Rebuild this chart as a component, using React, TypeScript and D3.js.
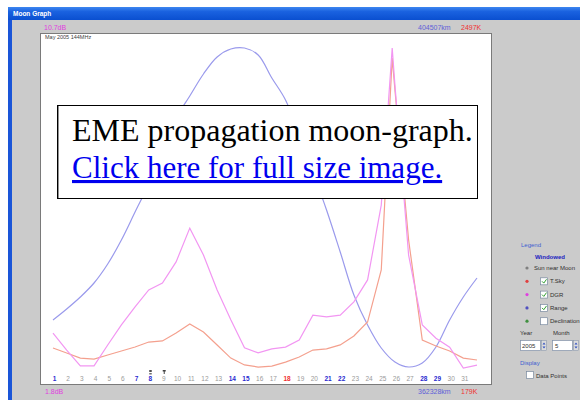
import React from "react";
import * as d3 from "d3";

// ---- data ----
const monthLabel = "May 2005 144MHz";
const dayLabels = d3.range(1, 32); // 1..31
const weekendDays = [1, 7, 8, 14, 15, 21, 22, 28, 29];
const specialDays = [18];

// Range (moon distance, km) sampled at day starts 1..32
const rangeDays = d3.range(1, 33);
const rangeKm = [
  368655, 370105, 371687, 373532, 376036, 379200, 382890, 386581, 391063, 395281,
  398180, 401080, 403321, 404375, 404507, 403585, 400553, 397653, 393040, 388163,
  383154, 377618, 371950, 367996, 364964, 363119, 362460, 362987, 365096, 368655,
  371687, 374191,
];

// Degradation (dB) and sky temperature (K) samples
const dgrDays = [
  1, 2, 3, 4, 5, 6, 7, 8, 9, 10, 11, 12, 13, 14, 15, 16, 17, 18, 19, 20, 21, 22, 23,
  24, 25, 25.8, 26, 27, 28, 29, 30, 31, 32,
];
const dgrDb = [
  2.77, 2.3, 1.86, 1.86, 2.44, 3.0, 3.5, 3.97, 4.16, 4.75, 5.69, 4.94, 3.97, 3.14,
  2.36, 2.22, 2.33, 2.38, 2.58, 3.27, 3.22, 3.27, 3.64, 4.25, 6.33, 10.7, 9.67, 4.94,
  3.0, 2.63, 2.38, 1.8, 1.88,
];
const tskyK = [
  324, 288, 251, 244, 273, 302, 331, 367, 375, 433, 498, 440, 346, 251, 201, 186, 193,
  222, 259, 309, 317, 346, 411, 512, 889, 2425, 2193, 1106, 382, 338, 302, 251, 237,
];

const dgrTop = "10.7dB";
const dgrBottom = "1.8dB";
const rangeTop = "404507km";
const rangeBottom = "362328km";
const tskyTop = "2497K";
const tskyBottom = "179K";

const legendItems = [
  { label: "Sun near Moon", color: "#808080", box: false, checked: false },
  { label: "T.Sky", color: "#e04040", box: true, checked: true },
  { label: "DGR", color: "#e040e0", box: true, checked: true },
  { label: "Range", color: "#5050c0", box: true, checked: true },
  { label: "Declination", color: "#409040", box: true, checked: false },
];

const BLUE = "#9a9aec";
const PINK = "#f296f2";
const RED = "#f4a08e";

export default function App() {
  const x = d3.scaleLinear().domain([1, 32]).range([53, 477]);
  const yTop = 48;
  const yBot = 368;
  const yRange = d3.scaleLinear().domain([362328, 404507]).range([yBot, yTop]);
  const yDgr = d3.scaleLinear().domain([1.8, 10.7]).range([yBot, yTop]);
  const yTsky = d3.scaleLinear().domain([179, 2497]).range([yBot, yTop]);

  const rangeLine = d3
    .line<number>()
    .x((_, i) => x(rangeDays[i]))
    .y((v) => yRange(v))
    .curve(d3.curveCatmullRom)(rangeKm)!;
  const dgrLine = d3
    .line<number>()
    .x((_, i) => x(dgrDays[i]))
    .y((v) => yDgr(v))(dgrDb)!;
  const tskyLine = d3
    .line<number>()
    .x((_, i) => x(dgrDays[i]))
    .y((v) => yTsky(v))(tskyK)!;

  const small = { fontFamily: "Liberation Sans, Arial, sans-serif", fontSize: 7 };

  return (
    <svg
      width={580}
      height={400}
      viewBox="0 0 580 400"
      style={{ position: "absolute", left: 0, top: 0 }}
    >
      <defs>
        <linearGradient id="tb" x1="0" y1="0" x2="0" y2="1">
          <stop offset="0" stopColor="#3d86f0" />
          <stop offset="0.35" stopColor="#1a62e0" />
          <stop offset="1" stopColor="#0a4fd0" />
        </linearGradient>
      </defs>
      <rect x={0} y={0} width={580} height={400} fill="#ffffff" />
      {/* window frame */}
      <rect x={8} y={7} width={572} height={393} fill="#1a55d8" />
      <rect x={8} y={7} width={572} height={13} fill="url(#tb)" />
      <text x={13} y={16} fill="#ffffff" fontWeight="bold" {...small} fontSize={6.5}>
        Moon Graph
      </text>
      <rect x={12} y={20} width={568} height={380} fill="#cbcbcb" />

      {/* top / bottom scale labels */}
      <text x={44} y={30} fill="#e040e0" {...small}>{dgrTop}</text>
      <text x={418} y={30} fill="#6060d8" {...small}>{rangeTop}</text>
      <text x={461} y={30} fill="#f03030" {...small}>{tskyTop}</text>
      <text x={45} y={394} fill="#e040e0" {...small}>{dgrBottom}</text>
      <text x={418} y={394} fill="#6060d8" {...small}>{rangeBottom}</text>
      <text x={461} y={394} fill="#f03030" {...small}>{tskyBottom}</text>

      {/* plot panel */}
      <rect x={40.5} y={33.5} width={451} height={351} fill="#ffffff" stroke="#7a7a7a" />
      <text x={45} y={39} fill="#404040" {...small} fontSize={5.5}>{monthLabel}</text>

      <path d={rangeLine} fill="none" stroke={BLUE} strokeWidth={1.2} />
      <path d={tskyLine} fill="none" stroke={RED} strokeWidth={1.2} />
      <path d={dgrLine} fill="none" stroke={PINK} strokeWidth={1.2} />

      {/* day labels */}
      {dayLabels.map((d) => {
        const wk = weekendDays.includes(d);
        const sp = specialDays.includes(d);
        return (
          <text
            key={d}
            x={x(d) + 1.5}
            y={381}
            textAnchor="middle"
            fill={sp ? "#f03030" : wk ? "#2a2ad0" : "#9a9a9a"}
            fontWeight={wk || sp ? "bold" : "normal"}
            {...small}
            fontSize={6.5}
          >
            {d}
          </text>
        );
      })}
      {/* phase markers above days 8 and 9 */}
      <rect x={x(8) + 0.5} y={370} width={2.5} height={2} fill="#505050" />
      <rect x={x(8) + 0.5} y={373} width={2.5} height={1.5} fill="#707070" />
      <rect x={x(9) + 0.3} y={370} width={3} height={1.5} fill="#404040" />
      <rect x={x(9) + 1.3} y={371} width={1} height={3} fill="#404040" />

      {/* legend */}
      <text x={521} y={247} fill="#4060d0" {...small} fontSize={6}>Legend</text>
      <text x={535} y={259} fill="#2020c0" fontWeight="bold" {...small} fontSize={6}>
        Windowed
      </text>
      {legendItems.map((it, i) => {
        const cy = 268 + i * 13.3;
        return (
          <g key={it.label}>
            <circle cx={527} cy={cy} r={1.6} fill={it.color} />
            {it.box && (
              <g>
                <rect x={540.5} y={cy - 3.5} width={7} height={7} fill="#ffffff" stroke="#7a8aa0" strokeWidth={0.7} />
                {it.checked && (
                  <path
                    d={`M${542},${cy} L${543.8},${cy + 1.8} L${546.5},${cy - 2}`}
                    fill="none"
                    stroke="#30a030"
                    strokeWidth={1}
                  />
                )}
              </g>
            )}
            <text x={it.box ? 550 : 534} y={cy + 2} fill="#303030" {...small} fontSize={6}>
              {it.label}
            </text>
          </g>
        );
      })}
      <text x={520} y={335} fill="#303030" {...small} fontSize={6}>Year</text>
      <text x={553} y={335} fill="#303030" {...small} fontSize={6}>Month</text>
      <rect x={520.5} y={340.5} width={20} height={10} fill="#ffffff" stroke="#8090a8" strokeWidth={0.7} />
      <text x={522} y={348} fill="#303030" {...small} fontSize={6}>2005</text>
      <rect x={541.5} y={340.5} width={5} height={10} fill="#dcdcdc" stroke="#8090a8" strokeWidth={0.5} />
      <path d="M542.5,344.5 L544,342.5 L545.5,344.5 Z M542.5,346.5 L544,348.5 L545.5,346.5 Z" fill="#3050c0" />
      <rect x={552.5} y={340.5} width={20} height={10} fill="#ffffff" stroke="#8090a8" strokeWidth={0.7} />
      <text x={555} y={348} fill="#303030" {...small} fontSize={6}>5</text>
      <rect x={573.5} y={340.5} width={5} height={10} fill="#dcdcdc" stroke="#8090a8" strokeWidth={0.5} />
      <path d="M574.5,344.5 L576,342.5 L577.5,344.5 Z M574.5,346.5 L576,348.5 L577.5,346.5 Z" fill="#3050c0" />
      <text x={520} y={365} fill="#4060d0" {...small} fontSize={6}>Display</text>
      <rect x={526.5} y={371.5} width={7} height={7} fill="#ffffff" stroke="#7a8aa0" strokeWidth={0.7} />
      <text x={536} y={377.5} fill="#303030" {...small} fontSize={6}>Data Points</text>

      {/* overlay caption box */}
      <rect x={57.5} y={105.5} width={420} height={93} fill="#ffffff" stroke="#000000" strokeWidth={1} />
      <line x1={58.5} y1={106} x2={58.5} y2={198} stroke="#909090" strokeWidth={1} />
      <text
        x={72}
        y={141}
        fill="#000000"
        fontFamily="Liberation Serif, Times New Roman, serif"
        fontSize={32}
      >
        EME propagation moon-graph.
      </text>
      <text
        x={72}
        y={178}
        fill="#0000ee"
        fontFamily="Liberation Serif, Times New Roman, serif"
        fontSize={31}
        textDecoration="underline"
      >
        Click here for full size image.
      </text>
    </svg>
  );
}
